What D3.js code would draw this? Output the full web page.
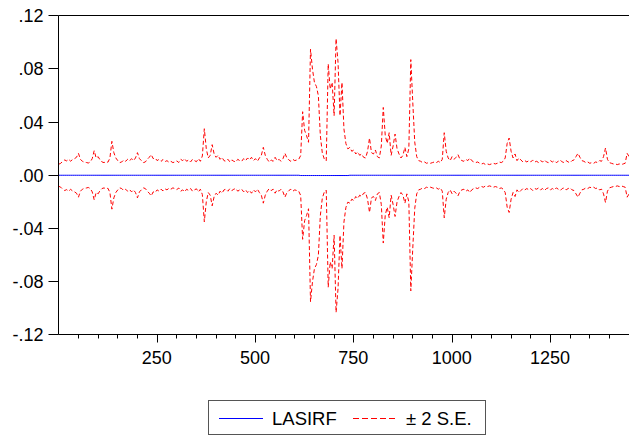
<!DOCTYPE html>
<html>
<head>
<meta charset="utf-8">
<script src="https://cdn.jsdelivr.net/npm/d3@7"></script>
<style>
  body { margin: 0; background: #fff; }
  text { font-family: "Liberation Sans", Arial, sans-serif; fill: #000; }
</style>
</head>
<body>
<svg id="chart" width="629" height="438"></svg>
<script>
var width = 629;
var height = 438;

// observation step between stored points
var step = 5;

// 2 S.E. band half-width (units of 0.001), obs 1, 6, 11, ...
var se2 = [
  8.3, 9.0, 10.5, 11.5, 10.8, 12.0, 10.6, 11.8, 12.5, 13.5,
  16.5, 12.0, 10.5, 9.8, 9.6, 9.2, 10.0, 12.5, 18.5, 13.0,
  14.0, 11.5, 10.0, 9.5, 10.2, 9.8, 13.0, 25.5, 17.0, 13.0,
  11.0, 9.5, 10.0, 11.5, 10.5, 12.0, 10.8, 12.5, 11.0, 13.0,
  17.0, 12.5, 11.0, 9.5, 10.0, 12.0, 13.5, 15.5, 12.5, 13.0,
  11.0, 12.0, 10.5, 11.8, 10.2, 11.0, 9.8, 10.5, 9.5, 10.0,
  10.8, 9.6, 12.0, 11.0, 12.5, 10.5, 11.5, 10.0, 12.0, 11.0,
  10.2, 12.5, 10.5, 14.5, 35.0, 20.0, 13.0, 15.0, 23.0, 16.0,
  13.5, 15.0, 12.0, 13.5, 11.0, 10.5, 12.0, 10.0, 11.5, 10.5,
  10.0, 12.0, 11.0, 10.5, 12.5, 11.0, 13.0, 11.5, 13.5, 11.0,
  12.5, 10.5, 13.0, 15.0, 21.0, 15.0, 12.0, 10.0, 11.5, 10.5,
  13.5, 11.0, 12.0, 10.5, 12.5, 16.5, 13.0, 11.5, 10.5, 12.0,
  11.0, 11.5, 12.0, 15.0, 48.0, 34.0, 30.0, 25.0, 95.0, 80.0,
  70.0, 67.0, 60.0, 30.0, 17.0, 12.5, 11.0, 84.0, 65.0, 70.0,
  45.0, 103.0, 85.0, 45.0, 70.0, 35.0, 24.0, 20.0, 21.0, 18.0,
  19.0, 16.0, 17.5, 15.0, 16.0, 13.5, 13.0, 18.0, 28.0, 17.0,
  16.0, 19.0, 14.0, 13.0, 22.0, 51.0, 30.0, 24.0, 32.0, 15.0,
  22.0, 31.0, 20.0, 16.0, 13.0, 15.0, 21.0, 14.0, 20.0, 87.0,
  55.0, 25.0, 14.0, 11.0, 10.5, 9.5, 10.0, 9.0, 9.5, 9.0,
  9.5, 10.0, 9.5, 10.5, 9.5, 12.0, 32.0, 18.0, 13.0, 11.0,
  14.0, 12.0, 13.5, 15.5, 12.0, 11.0, 10.5, 12.0, 11.0, 13.0,
  11.0, 10.0, 9.5, 10.0, 9.0, 8.5, 9.0, 8.0, 8.5, 8.0,
  8.5, 9.0, 8.5, 9.0, 10.0, 9.5, 10.5, 13.0, 24.0, 28.0,
  18.0, 13.0, 16.0, 11.0, 13.0, 11.5, 10.0, 11.0, 10.0, 11.0,
  10.0, 11.5, 10.0, 10.5, 9.5, 11.0, 10.0, 11.5, 10.0, 9.5,
  11.0, 10.0, 11.0, 9.5, 10.5, 11.5, 10.0, 9.5, 11.0, 10.0,
  9.5, 11.0, 11.5, 14.0, 16.5, 13.5, 11.0, 10.5, 9.5, 10.0,
  9.0, 9.5, 9.0, 10.0, 9.5, 11.0, 10.5, 14.0, 20.5, 12.0,
  9.5, 9.0, 8.5, 8.5, 8.0, 8.5, 8.0, 8.5, 9.0, 16.5,
  14.0
];

// impulse response itself, essentially flat at zero (units of 0.001)
var lasirf = se2.map(function(d, i) {
  return (i >= 123 && i <= 147) ? -0.2 : 0;
});

var yTicks = [0.12, 0.08, 0.04, 0, -0.04, -0.08, -0.12];
var yLabels = [".12", ".08", ".04", ".00", "-.04", "-.08", "-.12"];
var xMajor = [250, 500, 750, 1000, 1250];

var data = se2.map(function(d, i) {
  return {
    obs: 1 + i * step,
    irf: lasirf[i] / 1000,
    upper: (lasirf[i] + d) / 1000,
    lower: (lasirf[i] - d) / 1000
  };
});

var plotLeft = 58.5, plotTop = 15.5, plotBottom = 334.5, plotRight = 629.5;

var xScale = d3.scaleLinear()
  .domain([0, 1450])
  .range([58.4, 628.7]);

var yScale = d3.scaleLinear()
  .domain([-0.12, 0.12])
  .range([334.75, 15.75]);

var svg = d3.select("#chart");

svg.append("defs").append("clipPath")
  .attr("id", "plotclip")
  .append("rect")
  .attr("x", plotLeft).attr("y", plotTop)
  .attr("width", plotRight - plotLeft).attr("height", plotBottom - plotTop);

var plot = svg.append("g").attr("clip-path", "url(#plotclip)");

var line = function(key) {
  return d3.line()
    .x(function(d) { return xScale(d.obs); })
    .y(function(d) { return yScale(d[key]); });
};

plot.append("path")
  .datum(data)
  .attr("fill", "none")
  .attr("stroke", "#ff0000")
  .attr("stroke-width", 1)
  .attr("stroke-dasharray", "4,2.5")
  .attr("d", line("upper"));

plot.append("path")
  .datum(data)
  .attr("fill", "none")
  .attr("stroke", "#ff0000")
  .attr("stroke-width", 1)
  .attr("stroke-dasharray", "4,2.5")
  .attr("d", line("lower"));

plot.append("path")
  .datum(data)
  .attr("fill", "none")
  .attr("stroke", "#0000ff")
  .attr("stroke-width", 1)
  .attr("d", line("irf"));

// frame
svg.append("path")
  .attr("fill", "none")
  .attr("stroke", "#000")
  .attr("stroke-width", 1)
  .attr("d", "M" + plotRight + "," + plotTop + "H" + plotLeft + "V" + plotBottom + "H" + plotRight);

// y axis
var yAxis = svg.append("g").attr("transform", "translate(" + plotLeft + ",0)");
yAxis.selectAll("line")
  .data(yTicks)
  .enter().append("line")
  .attr("x1", -10).attr("x2", 0)
  .attr("y1", function(d) { return Math.floor(yScale(d)) + 0.5; })
  .attr("y2", function(d) { return Math.floor(yScale(d)) + 0.5; })
  .attr("stroke", "#000");
yAxis.selectAll("text")
  .data(yTicks)
  .enter().append("text")
  .attr("x", -15)
  .attr("y", function(d) { return yScale(d); })
  .attr("dy", "0.36em")
  .attr("text-anchor", "end")
  .style("font-size", "18px")
  .text(function(d, i) { return yLabels[i]; });

// x axis, minor every 50, labelled every 250
var xAxis = svg.append("g").attr("transform", "translate(0," + plotBottom + ")");
xAxis.selectAll("line")
  .data(d3.range(50, 1451, 50))
  .enter().append("line")
  .attr("x1", function(d) { return Math.round(xScale(d)) + 0.5; })
  .attr("x2", function(d) { return Math.round(xScale(d)) + 0.5; })
  .attr("y1", 0)
  .attr("y2", function(d) { return d % 250 === 0 ? 8 : 4; })
  .attr("stroke", "#000");
xAxis.selectAll("text")
  .data(xMajor)
  .enter().append("text")
  .attr("x", function(d) { return xScale(d); })
  .attr("y", 29)
  .attr("text-anchor", "middle")
  .style("font-size", "18px")
  .text(function(d) { return d; });

// legend
var legend = svg.append("g");
legend.append("rect")
  .attr("x", 208.5).attr("y", 400.5)
  .attr("width", 277).attr("height", 34)
  .attr("fill", "#fff")
  .attr("stroke", "#555");
legend.append("line")
  .attr("x1", 219).attr("x2", 263)
  .attr("y1", 418.5).attr("y2", 418.5)
  .attr("stroke", "#0000ff");
legend.append("text")
  .attr("x", 272).attr("y", 425)
  .style("font-size", "18.5px")
  .text("LASIRF");
legend.append("line")
  .attr("x1", 353).attr("x2", 398)
  .attr("y1", 418.5).attr("y2", 418.5)
  .attr("stroke", "#ff0000")
  .attr("stroke-dasharray", "6,3");
legend.append("text")
  .attr("x", 406).attr("y", 425)
  .style("font-size", "18.5px")
  .text("± 2 S.E.");
</script>
</body>
</html>
